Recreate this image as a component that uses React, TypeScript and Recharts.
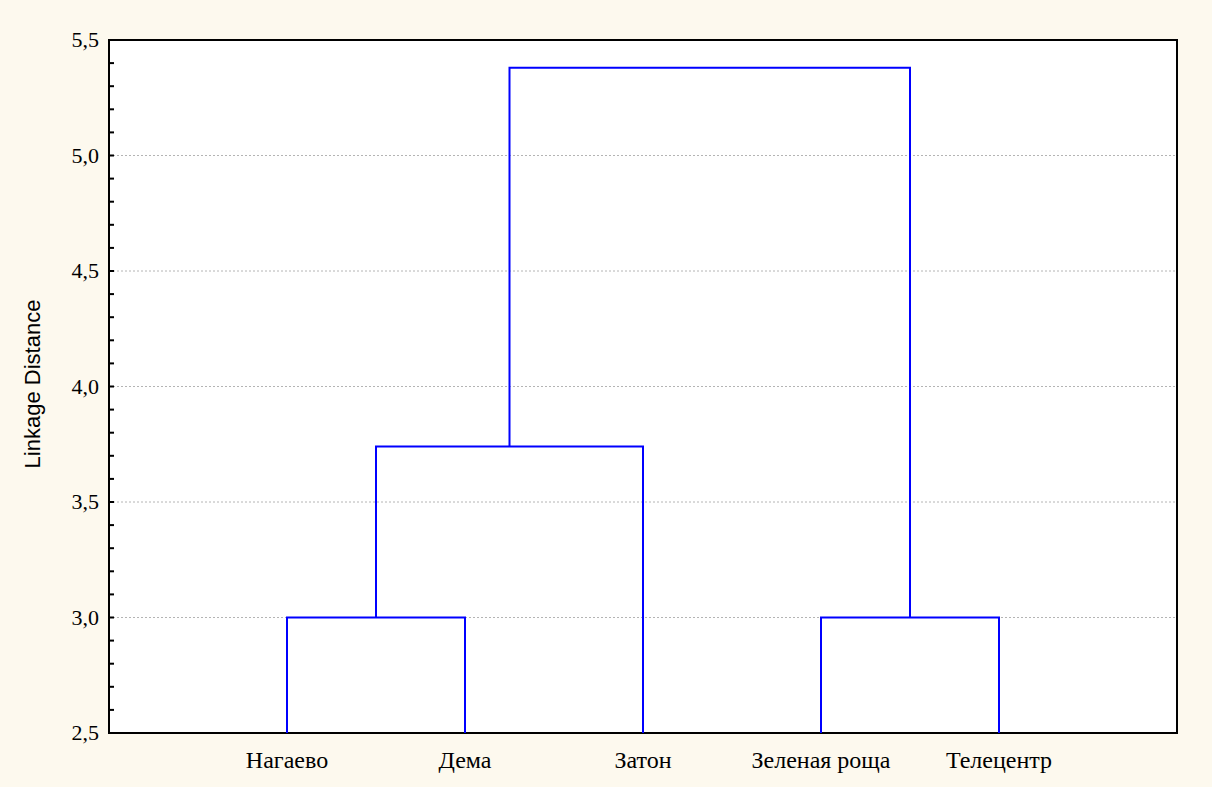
import {
  ComposedChart,
  Line,
  XAxis,
  YAxis,
  CartesianGrid,
  ReferenceArea,
} from 'recharts';

// leaves of the dendrogram, left to right
const leaves = ['Нагаево', 'Дема', 'Затон', 'Зеленая роща', 'Телецентр'];
const leafPos = [1, 2, 3, 4, 5];
const leafBase = 2.5;

// merges: ids < 5 are leaves, 5+ are earlier merges (5 = first merge, ...)
const mergeA = [0, 3, 5, 7];
const mergeB = [1, 4, 2, 6];
const mergeHeight = [3.0, 3.0, 3.74, 5.38];

const yTicks = [
  2.5, 2.6, 2.7, 2.8, 2.9, 3.0, 3.1, 3.2, 3.3, 3.4, 3.5, 3.6, 3.7, 3.8, 3.9, 4.0,
  4.1, 4.2, 4.3, 4.4, 4.5, 4.6, 4.7, 4.8, 4.9, 5.0, 5.1, 5.2, 5.3, 5.4, 5.5,
];
const yLabelTicks = [2.5, 3.0, 3.5, 4.0, 4.5, 5.0, 5.5];
const gridValues = [3.0, 3.5, 4.0, 4.5, 5.0];

const BLUE = '#0000ff';
const serif = '"Liberation Serif", "Times New Roman", serif';

type Pt = { x: number; y: number };

function buildLinks(): Pt[][] {
  const pos: number[] = [...leafPos];
  const hgt: number[] = leafPos.map(() => leafBase);
  const links: Pt[][] = [];
  mergeA.forEach((a, i) => {
    const b = mergeB[i];
    const h = mergeHeight[i];
    links.push([
      { x: pos[a], y: hgt[a] },
      { x: pos[a], y: h },
      { x: pos[b], y: h },
      { x: pos[b], y: hgt[b] },
    ]);
    pos.push((pos[a] + pos[b]) / 2);
    hgt.push(h);
  });
  return links;
}

const links = buildLinks();

function YTick(props: any) {
  const { x, y, payload } = props;
  const v: number = payload.value;
  const major = yLabelTicks.some((t) => Math.abs(t - v) < 1e-6);
  return (
    <g>
      <line x1={x} x2={x + 5} y1={y} y2={y} stroke="#000" strokeWidth={2} />
      {major && (
        <text x={x - 10} y={y} dy={7} textAnchor="end" fill="#000" fontSize={22} fontFamily={serif}>
          {v.toFixed(1).replace('.', ',')}
        </text>
      )}
    </g>
  );
}

export default function App() {
  return (
    <div style={{ position: 'absolute', left: 0, top: 0, width: 1212, height: 787, background: '#fdf9ee' }}>
      <ComposedChart
        width={1212}
        height={787}
        margin={{ top: 40, right: 35, bottom: 24, left: 9 }}
      >
        <CartesianGrid
          vertical={false}
          horizontalValues={gridValues}
          stroke="#b4b4b4"
          strokeDasharray="2 2"
          fill="#fff"
        />
        <XAxis
          type="number"
          dataKey="x"
          domain={[0, 6]}
          ticks={leafPos}
          interval={0}
          tickFormatter={(v: number) => leaves[v - 1] ?? ''}
          axisLine={false}
          tickLine={false}
          tickMargin={12}
          height={30}
          tick={{ fill: '#000', fontSize: 24, fontFamily: serif }}
          allowDataOverflow
        />
        <YAxis
          type="number"
          domain={[2.5, 5.5]}
          ticks={yTicks}
          interval={0}
          axisLine={false}
          tickLine={false}
          tickSize={0}
          tickMargin={0}
          width={100}
          tick={<YTick />}
          allowDataOverflow
          label={{
            content: () => (
              <text
                x={40}
                y={384}
                transform="rotate(-90 40 384)"
                textAnchor="middle"
                fill="#000"
                fontSize={22}
                fontFamily='"Liberation Sans", Arial, sans-serif'
              >
                Linkage Distance
              </text>
            ),
          }}
        />
        {links.map((d, i) => (
          <Line
            key={i}
            data={d}
            dataKey="y"
            type="linear"
            stroke={BLUE}
            strokeWidth={2}
            dot={false}
            activeDot={false}
            isAnimationActive={false}
          />
        ))}
        <ReferenceArea x1={0} x2={6} y1={2.5} y2={5.5} fill="none" stroke="#000" strokeWidth={2} />
      </ComposedChart>
    </div>
  );
}
